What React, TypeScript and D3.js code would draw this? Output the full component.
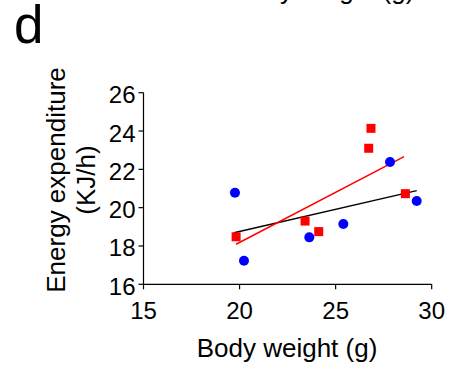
import React, { useEffect, useRef } from 'react';
import * as d3 from 'd3';

// Body weight (g) vs energy expenditure (KJ/h)
const blueX = [19.76, 20.23, 23.63, 25.4, 27.83, 29.22];
const blueY = [20.78, 17.23, 18.45, 19.15, 22.38, 20.35];
const redX = [19.82, 23.41, 24.12, 26.72, 26.84, 28.63];
const redY = [18.48, 19.3, 18.75, 23.1, 24.14, 20.73];

// fitted lines, end points
const blackFitX = [19.71, 29.22];
const blackFitY = [18.69, 20.89];
const redFitX = [19.82, 28.56];
const redFitY = [18.09, 22.66];

const xTicks = [15, 20, 25, 30];
const yTicks = [16, 18, 20, 22, 24, 26];

const FONT = "'Liberation Sans', Arial, sans-serif";

const App: React.FC = () => {
  const svgRef = useRef<SVGSVGElement>(null);

  useEffect(() => {
    if (!svgRef.current) return;
    const svg = d3.select(svgRef.current);
    svg.selectAll('*').remove();

    const x = d3.scaleLinear().domain([15, 30]).range([143.5, 431.7]);
    const y = d3.scaleLinear().domain([16, 26]).range([284.3, 92.7]);

    // panel letter
    svg.append('text')
      .attr('x', 14).attr('y', 43)
      .text('d')
      .style('font-family', FONT)
      .style('font-size', '53px')
      .style('fill', '#000');

    // cut-off label of the panel above
    svg.append('text')
      .attr('x', 324).attr('y', -1)
      .attr('text-anchor', 'middle')
      .text('Body weight (g)')
      .style('font-family', FONT)
      .style('font-size', '26px')
      .style('fill', '#000');

    // axes
    const axisG = svg.append('g').attr('stroke', '#000').attr('stroke-width', 1.2).attr('fill', 'none');
    axisG.append('line')
      .attr('x1', x(15)).attr('x2', x(15))
      .attr('y1', y(26)).attr('y2', y(16));
    axisG.append('line')
      .attr('x1', x(15)).attr('x2', x(30))
      .attr('y1', y(16)).attr('y2', y(16));

    axisG.selectAll('.ytick')
      .data(yTicks)
      .enter().append('line')
      .attr('x1', x(15) - 5).attr('x2', x(15))
      .attr('y1', d => y(d)).attr('y2', d => y(d));

    axisG.selectAll('.xtick')
      .data(xTicks)
      .enter().append('line')
      .attr('x1', d => x(d)).attr('x2', d => x(d))
      .attr('y1', y(16)).attr('y2', y(16) + 5);

    svg.selectAll('.ylab')
      .data(yTicks)
      .enter().append('text')
      .attr('x', x(15) - 8)
      .attr('y', d => y(d) + 10.5)
      .attr('text-anchor', 'end')
      .text(d => d)
      .style('font-family', FONT)
      .style('font-size', '24px')
      .style('fill', '#000');

    svg.selectAll('.xlab')
      .data(xTicks)
      .enter().append('text')
      .attr('x', d => x(d))
      .attr('y', y(16) + 35)
      .attr('text-anchor', 'middle')
      .text(d => d)
      .style('font-family', FONT)
      .style('font-size', '24px')
      .style('fill', '#000');

    // axis titles
    svg.append('text')
      .attr('x', 287).attr('y', 357)
      .attr('text-anchor', 'middle')
      .text('Body weight (g)')
      .style('font-family', FONT)
      .style('font-size', '26px')
      .style('fill', '#000');

    const yTitle = svg.append('g').attr('transform', 'translate(65,180) rotate(-90)');
    yTitle.append('text')
      .attr('x', 0).attr('y', 0)
      .attr('text-anchor', 'middle')
      .text('Energy expenditure')
      .style('font-family', FONT)
      .style('font-size', '26px')
      .style('fill', '#000');
    yTitle.append('text')
      .attr('x', 0).attr('y', 30)
      .attr('text-anchor', 'middle')
      .text('(KJ/h)')
      .style('font-family', FONT)
      .style('font-size', '26px')
      .style('fill', '#000');

    // fit lines
    const line = d3.line<[number, number]>().x(d => x(d[0])).y(d => y(d[1]));
    svg.append('path')
      .datum(d3.zip(blackFitX, blackFitY) as [number, number][])
      .attr('d', line)
      .attr('stroke', '#000').attr('stroke-width', 1.5).attr('fill', 'none');
    svg.append('path')
      .datum(d3.zip(redFitX, redFitY) as [number, number][])
      .attr('d', line)
      .attr('stroke', '#ff0000').attr('stroke-width', 1.5).attr('fill', 'none');

    // points
    svg.selectAll('.blue')
      .data(d3.zip(blueX, blueY))
      .enter().append('circle')
      .attr('cx', d => x(d[0]))
      .attr('cy', d => y(d[1]))
      .attr('r', 5)
      .style('fill', '#0000ff');

    const sq = 9;
    svg.selectAll('.red')
      .data(d3.zip(redX, redY))
      .enter().append('rect')
      .attr('x', d => x(d[0]) - sq / 2)
      .attr('y', d => y(d[1]) - sq / 2)
      .attr('width', sq).attr('height', sq)
      .style('fill', '#ff0000');
  }, []);

  return (
    <div style={{ position: 'absolute', left: 0, top: 0 }}>
      <svg ref={svgRef} width={452} height={368} style={{ display: 'block', background: '#fff' }}></svg>
    </div>
  );
};

export default App;
